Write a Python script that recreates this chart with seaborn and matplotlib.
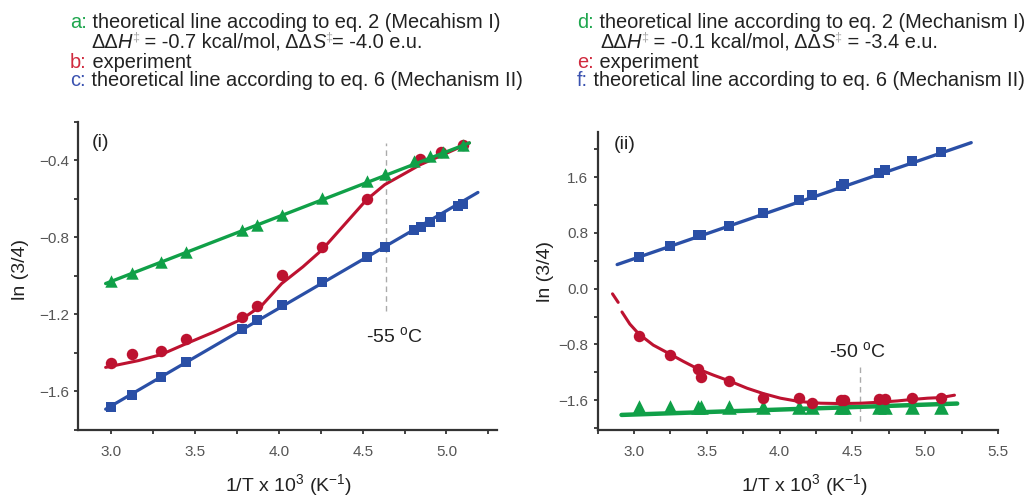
import matplotlib
matplotlib.use("Agg")
import matplotlib.pyplot as plt
from matplotlib.ticker import MultipleLocator, FuncFormatter
import numpy as np
import pandas as pd
import seaborn as sns

# ---------------- data: panel (i) ----------------
x_i = [3.000, 3.123, 3.295, 3.443, 3.781, 3.867, 4.016, 4.256, 4.523, 4.631,
       4.809, 4.850, 4.902, 4.969, 5.066, 5.100]
c_i = [-1.683, -1.619, -1.527, -1.449, -1.275, -1.231, -1.150, -1.031, -0.901, -0.849,
       -0.762, -0.744, -0.722, -0.692, -0.640, -0.628]

xa_i = [3.000, 3.123, 3.295, 3.443, 3.781, 3.867, 4.016, 4.256, 4.523, 4.631,
        4.809, 4.902, 4.980, 5.096]
a_i = [-1.026, -0.984, -0.927, -0.875, -0.762, -0.736, -0.683, -0.597, -0.510, -0.470,
       -0.405, -0.380, -0.358, -0.323]

xb_i = [3.000, 3.123, 3.295, 3.443, 3.781, 3.867, 4.016, 4.256, 4.523, 4.844, 4.969, 5.100]
b_i = [-1.454, -1.405, -1.388, -1.327, -1.214, -1.158, -0.993, -0.849, -0.602, -0.395,
       -0.358, -0.323]

# fitted experimental curve (b)
bfit_x_i = [2.965, 3.160, 3.295, 3.443, 3.610, 3.781, 3.898, 4.016, 4.143, 4.256,
            4.389, 4.523, 4.631, 4.738, 4.844, 4.984, 5.137]
bfit_y_i = [-1.475, -1.440, -1.409, -1.353, -1.292, -1.223, -1.153, -1.040, -0.953, -0.866,
            -0.736, -0.605, -0.527, -0.475, -0.423, -0.370, -0.310]

# theoretical lines (a) and (c), end points
aline_x_i = [2.965, 5.137]
aline_y_i = [-1.040, -0.310]
cline_x_i = [2.965, 5.188]
cline_y_i = [-1.692, -0.567]

# ---------------- data: panel (ii) ----------------
x_ii = [3.034, 3.248, 3.443, 3.462, 3.653, 3.887, 4.135, 4.225, 4.420, 4.443,
        4.684, 4.723, 4.907, 5.109]
f_ii = [0.450, 0.608, 0.762, 0.770, 0.905, 1.087, 1.265, 1.337, 1.471, 1.495,
        1.662, 1.696, 1.825, 1.959]
e_ii = [-0.675, -0.949, -1.155, -1.265, -1.322, -1.571, -1.571, -1.633, -1.600, -1.595,
        -1.586, -1.586, -1.571, -1.562]
d_ii = [-1.700, -1.700, -1.700, -1.700, -1.700, -1.703, -1.703, -1.703, -1.703, -1.703,
        -1.703, -1.703, -1.703, -1.703]

# fitted experimental curve (e): dashed extrapolation + solid fit
efit_dash_x = [2.853, 2.892]
efit_dash_y = [-0.075, -0.197]
efit_x = [2.918, 2.972, 3.034, 3.133, 3.248, 3.340, 3.443, 3.547, 3.653, 3.777,
          3.887, 4.006, 4.135, 4.282, 4.420, 4.558, 4.684, 4.811, 4.907, 5.017,
          5.109, 5.201]
efit_y = [-0.335, -0.508, -0.651, -0.810, -0.939, -1.044, -1.155, -1.241, -1.322, -1.428,
          -1.504, -1.571, -1.619, -1.643, -1.648, -1.643, -1.629, -1.610, -1.590, -1.571,
          -1.562, -1.528]

dline_x_ii = [2.915, 5.220]
dline_y_ii = [-1.811, -1.648]
fline_x_ii = [2.885, 5.316]
fline_y_ii = [0.345, 2.093]

# temperature markers
temp_i = {"x": [4.642, 4.642], "y": [-1.18, -0.31], "label": "-55 $^{\\mathrm{o}}$C",
          "pos": (4.52, -1.31)}
temp_ii = {"x": [4.553, 4.553], "y": [-1.12, -1.95], "label": "-50 $^{\\mathrm{o}}$C",
           "pos": (4.34, -0.90)}

# ---------------- style ----------------
GREEN = "#10a048"
RED = "#bd1230"
BLUE = "#2a4fa6"
INK = "#222222"
TICK = "#555555"
SPINE = "#333333"

sns.set_theme(style="ticks")
plt.rcParams["font.family"] = ["Liberation Sans", "DejaVu Sans"]
plt.rcParams["mathtext.fontset"] = "custom"
plt.rcParams["mathtext.rm"] = "Liberation Sans"
plt.rcParams["mathtext.it"] = "Liberation Sans:italic"
plt.rcParams["mathtext.bf"] = "Liberation Sans:bold"

W, H = 1029, 496
fig = plt.figure(figsize=(W / 100, H / 100), dpi=100)
ax1 = fig.add_axes([78 / W, 1 - 430 / H, 418.7 / W, 308.3 / H])
ax2 = fig.add_axes([597.5 / W, 1 - 429.5 / H, 400.5 / W, 297.8 / H])


def draw_line(ax, xs, ys, color, lw, ls="-", z=2):
    df = pd.DataFrame({"x": xs, "y": ys})
    sns.lineplot(data=df, x="x", y="y", ax=ax, color=color, lw=lw, ls=ls,
                 sort=False, estimator=None, zorder=z)


def draw_marks(ax, xs, ys, color, marker, size, z=3):
    df = pd.DataFrame({"x": xs, "y": ys})
    sns.scatterplot(data=df, x="x", y="y", ax=ax, color=color, marker=marker,
                    s=size, linewidth=0, zorder=z)


# panel (i)
draw_line(ax1, cline_x_i, cline_y_i, BLUE, 2.3, z=2)
draw_marks(ax1, x_i, c_i, BLUE, "s", 55, z=3)
draw_line(ax1, bfit_x_i, bfit_y_i, RED, 2.2, z=4)
draw_marks(ax1, xb_i, b_i, RED, "o", 68, z=5)
draw_line(ax1, aline_x_i, aline_y_i, GREEN, 2.4, z=6)
draw_marks(ax1, xa_i, a_i, GREEN, "^", 80, z=7)

# panel (ii)
draw_line(ax2, fline_x_ii, fline_y_ii, BLUE, 2.4, z=2)
draw_marks(ax2, x_ii, f_ii, BLUE, "s", 55, z=3)
draw_line(ax2, dline_x_ii, dline_y_ii, GREEN, 3.2, z=4)
draw_marks(ax2, x_ii, d_ii, GREEN, "^", 110, z=5)
draw_line(ax2, efit_dash_x, efit_dash_y, RED, 2.2, z=6)
draw_line(ax2, efit_x, efit_y, RED, 2.2, z=6)
draw_marks(ax2, x_ii, e_ii, RED, "o", 68, z=7)

for ax, tm in ((ax1, temp_i), (ax2, temp_ii)):
    ax.plot(tm["x"], tm["y"], color="#aaaaaa", lw=1.0, ls=(0, (4, 3)), zorder=1)
    ax.text(tm["pos"][0], tm["pos"][1], tm["label"], fontsize=14, color=INK,
            ha="left", va="center")

ax1.text(2.88, -0.31, "(i)", fontsize=14, color=INK, ha="left", va="center")
ax2.text(2.86, 2.07, "(ii)", fontsize=14, color=INK, ha="left", va="center")

# axes
ax1.set_xlim(2.8, 5.3)
ax1.set_ylim(-1.8, -0.2)
ax2.set_xlim(2.75, 5.5)
ax2.set_ylim(-2.02, 2.25)

ax1.yaxis.set_major_locator(MultipleLocator(0.4))
ax1.yaxis.set_minor_locator(MultipleLocator(0.2))
ax2.yaxis.set_major_locator(MultipleLocator(0.8))
ax2.yaxis.set_minor_locator(MultipleLocator(0.4))


def one_decimal(v, _pos):
    s = f"{v:.1f}"
    if s == "-0.0":
        s = "0.0"
    return s.replace("-", "\u2212")


for ax in (ax1, ax2):
    ax.xaxis.set_major_locator(MultipleLocator(0.5))
    ax.xaxis.set_minor_locator(MultipleLocator(0.25))
    ax.xaxis.set_major_formatter(FuncFormatter(one_decimal))
    ax.yaxis.set_major_formatter(FuncFormatter(one_decimal))
    sns.despine(ax=ax)
    for side in ("left", "bottom"):
        ax.spines[side].set_linewidth(1.6)
        ax.spines[side].set_color(SPINE)
    ax.tick_params(axis="both", which="both", direction="out", length=3.0,
                   width=1.3, color=SPINE, labelsize=11, labelcolor=TICK)
    ax.tick_params(axis="x", which="both", pad=8.0)
    ax.tick_params(axis="y", which="both", pad=3.5)
    ax.set_facecolor("white")
    ax.set_xlabel("1/T x 10$^{3}$ (K$^{-1}$)", fontsize=14, color=INK, va="center")
    ax.set_ylabel("ln (3/4)", fontsize=14, color=INK, va="center")

ax1.xaxis.set_label_coords(0.502, -0.178)
ax1.yaxis.set_label_coords(-0.137, 0.52)
ax2.xaxis.set_label_coords(0.518, -0.186)
ax2.yaxis.set_label_coords(-0.131, 0.53)

# ---------------- key text above the panels ----------------
renderer = fig.canvas.get_renderer()
FS = 14.4
BODY = dict(fontsize=FS, color=INK)
SUP = dict(fontsize=9, color="#aaaaaa")


def put_line(x_px, y_px, pieces):
    x = x_px
    for txt, kw, dy in pieces:
        t = fig.text(x / W, 1 - (y_px - dy) / H, txt, ha="left", va="baseline", **kw)
        x += t.get_window_extent(renderer).width


def key_block(x0, x_indent, letters, colors, texts, dh, ds, space_before_eq):
    ys = [28.5, 48.0, 67.5, 86.5]
    for row, k in ((0, 0), (2, 1), (3, 2)):
        put_line(x0, ys[row], [(letters[k] + ":", dict(fontsize=FS, color=colors[k]), 0),
                               (" " + texts[k], BODY, 0)])
    put_line(x_indent, ys[1], [
        ("\u0394\u0394", BODY, 0),
        ("H", dict(BODY, style="italic"), 0),
        ("\u2021", SUP, 7),
        (" = " + dh + " kcal/mol, \u0394\u0394", BODY, 0),
        ("S", dict(BODY, style="italic"), 0),
        ("\u2021", SUP, 7),
        ((" = " if space_before_eq else "= ") + ds + " e.u.", BODY, 0),
    ])


key_block(70, 91, ["a", "b", "c"], ["#1fa64e", "#d02a3e", "#3a52b0"],
          ["theoretical line accoding to eq. 2 (Mecahism I)", "experiment",
           "theoretical line according to eq. 6 (Mechanism II)"],
          "-0.7", "-4.0", False)
key_block(577, 600, ["d", "e", "f"], ["#1fa64e", "#d02a3e", "#3a52b0"],
          ["theoretical line according to eq. 2 (Mechanism I)", "experiment",
           "theoretical line according to eq. 6 (Mechanism II)"],
          "-0.1", "-3.4", True)

fig.savefig("out.png", dpi=100, facecolor="white")
